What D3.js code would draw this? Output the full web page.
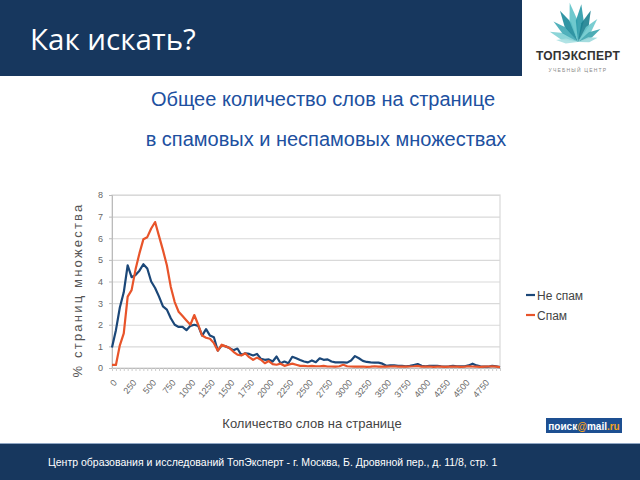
<!DOCTYPE html>
<html><head><meta charset="utf-8">
<script src="https://cdn.jsdelivr.net/npm/d3@7"></script>
<style>
html,body{margin:0;padding:0;background:#fff;}
svg{display:block;font-family:"Liberation Sans",Arial,sans-serif;}
</style></head>
<body><svg id="c" width="640" height="480"></svg>
<script>
const categories = d3.range(0, 5000, 50);
const tickLabels = d3.range(0, 5000, 250);
const seriesNames = ["Не спам", "Спам"];
const notSpam = [
 0.95,1.75,2.8,3.5,4.75,4.2,4.3,4.5,4.8,4.6,
 4.0,3.7,3.3,2.85,2.7,2.3,2.0,1.9,1.9,1.75,
 1.95,2.0,1.95,1.5,1.8,1.5,1.42,0.8,1.05,1.0,
 0.92,0.82,0.9,0.6,0.68,0.65,0.58,0.65,0.42,0.38,
 0.4,0.3,0.53,0.22,0.3,0.22,0.52,0.45,0.37,0.3,
 0.26,0.35,0.27,0.45,0.38,0.4,0.3,0.26,0.26,0.26,
 0.25,0.35,0.55,0.45,0.33,0.28,0.26,0.25,0.25,0.2,
 0.1,0.12,0.12,0.1,0.1,0.08,0.1,0.14,0.18,0.1,
 0.08,0.1,0.1,0.1,0.08,0.07,0.08,0.1,0.08,0.08,
 0.08,0.12,0.2,0.12,0.08,0.06,0.06,0.1,0.08,0.04];
const spam = [
 0.14,0.14,1.05,1.6,3.3,3.6,4.55,5.3,5.95,6.05,
 6.45,6.75,6.1,5.45,4.75,3.75,3.05,2.6,2.4,2.2,
 2.0,2.45,2.0,1.5,1.4,1.35,1.15,0.8,1.08,1.0,
 0.92,0.75,0.62,0.58,0.68,0.5,0.38,0.48,0.38,0.22,
 0.32,0.18,0.15,0.2,0.1,0.15,0.2,0.15,0.1,0.1,
 0.08,0.1,0.08,0.08,0.1,0.07,0.07,0.06,0.08,0.15,
 0.08,0.07,0.06,0.06,0.07,0.05,0.06,0.08,0.06,0.07,
 0.06,0.07,0.08,0.06,0.07,0.06,0.07,0.08,0.1,0.06,
 0.06,0.07,0.05,0.06,0.06,0.05,0.06,0.07,0.06,0.05,
 0.06,0.08,0.07,0.06,0.05,0.06,0.07,0.08,0.06,0.04];
const yTicks = [0,1,2,3,4,5,6,7,8];
const colors = ["#1b4778", "#e8542a"];

const svg = d3.select("#c");
const navy = "#17375e";

// header
svg.append("rect").attr("x",0).attr("y",0).attr("width",522).attr("height",76).attr("fill",navy);
svg.append("text").attr("x",30).attr("y",50).attr("fill","#fff")
  .attr("font-family","'Open Sans','DejaVu Sans',sans-serif").attr("font-size",29.5).text("Как искать?");

// logo
const logo = svg.append("g").attr("transform","translate(578,42)");
const petals = [
  {a:-70,l:30,w:7,c:"#7fd0d4"},{a:-50,l:32,w:7,c:"#3fa9b5"},{a:-30,l:36,w:8,c:"#1b8a9a"},
  {a:-12,l:40,w:8,c:"#5fc3c9"},{a:5,l:38,w:8,c:"#2a9aa8"},{a:22,l:34,w:8,c:"#1b7f8f"},
  {a:40,l:30,w:7,c:"#6cc8cc"},{a:60,l:26,w:6,c:"#3aa3ad"},{a:-85,l:22,w:5,c:"#a8e0e2"},{a:78,l:20,w:5,c:"#9ad8dc"}];
petals.forEach(p=>{
  logo.append("path")
    .attr("d",`M0,0 L${-p.w/2},${-p.l*0.55} L0,${-p.l} L${p.w/2},${-p.l*0.55} Z`)
    .attr("fill",p.c).attr("opacity",0.9)
    .attr("transform",`rotate(${p.a})`);
});
svg.append("text").attr("x",578).attr("y",60).attr("text-anchor","middle").attr("fill","#333")
  .attr("font-size",12).attr("font-weight","bold").attr("letter-spacing",0.3).text("ТОПЭКСПЕРТ");
svg.append("text").attr("x",578).attr("y",72).attr("text-anchor","middle").attr("fill","#888")
  .attr("font-size",5).attr("letter-spacing",1.2).text("УЧЕБНЫЙ ЦЕНТР");

// chart titles
const titleColor = "#2050a0";
svg.append("text").attr("x",323).attr("y",106).attr("text-anchor","middle").attr("fill",titleColor)
  .attr("font-size",20).text("Общее количество слов на странице");
svg.append("text").attr("x",326).attr("y",146).attr("text-anchor","middle").attr("fill",titleColor)
  .attr("font-size",20).text("в спамовых и неспамовых множествах");

// plot
const L=112, R=500, T=195, B=368;
const x = d3.scalePoint().domain(categories).range([L,R]);
const y = d3.scaleLinear().domain([0,8]).range([B,T]);

const g = svg.append("g");
g.append("g").attr("transform",`translate(${L},0)`)
  .call(d3.axisLeft(y).tickValues(yTicks).tickSize(-(R-L)).tickFormat(""))
  .call(a=>{a.select(".domain").remove(); a.selectAll("line").attr("stroke","#d9d9d9").attr("stroke-width",1.2);});
g.append("rect").attr("x",L).attr("y",T).attr("width",R-L).attr("height",B-T)
  .attr("fill","none").attr("stroke","#d9d9d9").attr("stroke-width",1.2);

const ya = g.append("g").attr("transform",`translate(${L},0)`)
  .call(d3.axisLeft(y).tickValues(yTicks).tickSize(3).tickPadding(6));
ya.select(".domain").attr("stroke","#bbb");
ya.selectAll("line").attr("stroke","#bbb");
ya.selectAll("text").attr("fill","#666").attr("font-size",9).attr("font-family","'Liberation Sans',Arial,sans-serif");

const xa = g.append("g").attr("transform",`translate(0,${B})`)
  .call(d3.axisBottom(x).tickSize(3).tickFormat(d=> tickLabels.includes(d)? String(d):""));
xa.select(".domain").attr("stroke","#bbb");
xa.selectAll("line").attr("stroke","#ccc");
xa.selectAll("text").attr("fill","#666").attr("font-size",9).attr("font-family","'Liberation Sans',Arial,sans-serif")
  .attr("text-anchor","end").attr("dy","0.35em")
  .attr("transform","translate(-2,9) rotate(-50)");

const line = d3.line().x((d,i)=>x(categories[i])).y(d=>y(d));
[notSpam, spam].forEach((s,k)=>{
  g.append("path").datum(s).attr("d",line).attr("fill","none")
    .attr("stroke",colors[k]).attr("stroke-width",2.2).attr("stroke-linejoin","round");
});

// axis labels
svg.append("text").attr("transform",`translate(82,290) rotate(-90)`).attr("text-anchor","middle")
  .attr("fill","#555").attr("font-size",13).attr("letter-spacing",2.2).text("% страниц множества");
svg.append("text").attr("x",312).attr("y",428).attr("text-anchor","middle").attr("fill","#444")
  .attr("font-size",13).text("Количество слов на странице");

// legend
seriesNames.forEach((n,k)=>{
  const yy = 295 + k*20;
  svg.append("line").attr("x1",526).attr("x2",535).attr("y1",yy).attr("y2",yy)
    .attr("stroke",colors[k]).attr("stroke-width",2.2);
  svg.append("text").attr("x",537).attr("y",yy+4.5).attr("fill","#444").attr("font-size",12).text(n);
});

// mail logo
svg.append("rect").attr("x",546).attr("y",418).attr("width",76).attr("height",15).attr("fill","#1d4f91");
const mt = svg.append("text").attr("x",584).attr("y",429.5).attr("text-anchor","middle")
  .attr("font-size",10).attr("font-weight","bold").attr("fill","#fff");
mt.append("tspan").text("поиск");
mt.append("tspan").attr("fill","#f7a21b").text("@");
mt.append("tspan").text("mail");
mt.append("tspan").attr("fill","#f7a21b").text(".ru");

// footer
svg.append("rect").attr("x",0).attr("y",443).attr("width",640).attr("height",37).attr("fill",navy);
svg.append("line").attr("x1",0).attr("x2",640).attr("y1",443.5).attr("y2",443.5).attr("stroke","#8fa6c4").attr("stroke-width",1);
svg.append("text").attr("x",48).attr("y",466).attr("fill","#fff").attr("font-size",10.5)
  .attr("font-family","'Liberation Sans Narrow','Liberation Sans',Arial,sans-serif")
  .text("Центр образования и исследований ТопЭксперт - г. Москва, Б. Дровяной пер., д. 11/8, стр. 1");
</script></body></html>
